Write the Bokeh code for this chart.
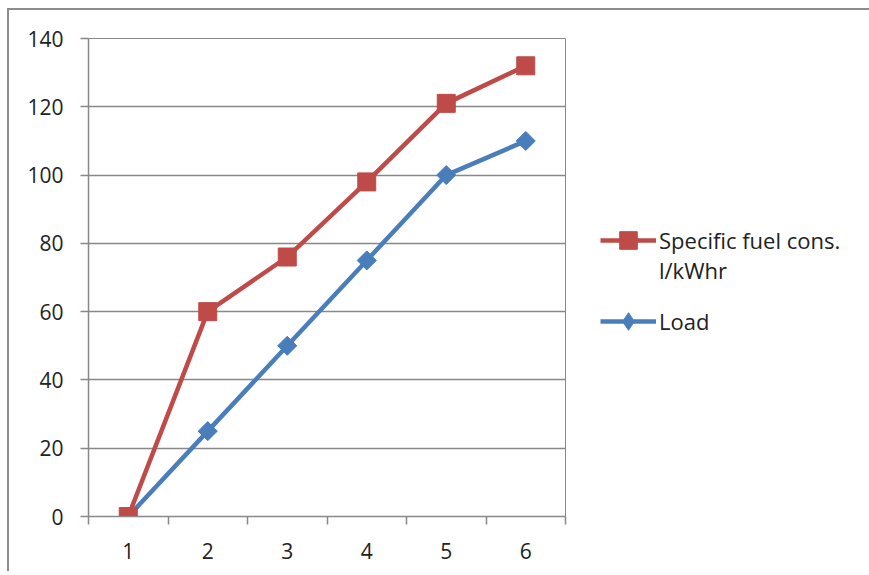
import math
from bokeh.plotting import figure
from bokeh.models import FixedTicker, Legend, LegendItem
from bokeh.embed import file_html
from bokeh.resources import INLINE

categories = [1, 2, 3, 4, 5, 6]
fuel = [0, 60, 76, 98, 121, 132]
load = [0, 25, 50, 75, 100, 110]
y_ticks = [0, 20, 40, 60, 80, 100, 120, 140]
fuel_label = ["Specific fuel cons.", "l/kWhr"]
load_label = "Load"

RED = "#BE4B48"
BLUE = "#4A7EBB"
GRID = "#888888"
FONT = "Open Sans"

p = figure(output_backend="svg", toolbar_location=None,
           x_range=(0.5, 6.5), y_range=(0, 140),
           frame_width=477, frame_height=478,
           min_border_left=79, min_border_right=290, min_border_top=28, min_border_bottom=55,
           styles={"border-top": "2px solid #8c8c8c", "border-left": "2px solid #8c8c8c",
                   "margin-top": "8px", "margin-left": "7px"})
p.outline_line_color = GRID
p.outline_line_width = 1
p.background_fill_color = "white"
p.border_fill_color = "white"

p.xgrid.visible = False
p.ygrid.ticker = FixedTicker(ticks=y_ticks)
p.ygrid.grid_line_color = GRID
p.ygrid.grid_line_width = 1.5

p.xaxis.ticker = FixedTicker(ticks=categories, minor_ticks=[0.5, 1.5, 2.5, 3.5, 4.5, 5.5, 6.5])
p.xaxis.major_tick_line_color = None
p.xaxis.minor_tick_line_color = GRID
p.xaxis.minor_tick_line_width = 1.5
p.xaxis.minor_tick_out = 8
p.xaxis.minor_tick_in = 0
p.xaxis.axis_line_color = GRID
p.xaxis.axis_line_width = 1.5
p.xaxis.major_label_standoff = 18

p.yaxis.ticker = FixedTicker(ticks=y_ticks)
p.yaxis.major_tick_line_color = GRID
p.yaxis.major_tick_line_width = 1.5
p.yaxis.major_tick_out = 8
p.yaxis.major_tick_in = 0
p.yaxis.minor_tick_line_color = None
p.yaxis.axis_line_color = GRID
p.yaxis.axis_line_width = 1.5
p.yaxis.major_label_standoff = 17

for ax in (p.xaxis, p.yaxis):
    ax.major_label_text_font = FONT
    ax.major_label_text_font_size = "21px"
    ax.major_label_text_color = "#222222"

bl = p.line(categories, load, line_color=BLUE, line_width=4.5)
bm = p.scatter(categories, load, marker="square", angle=math.pi / 4, size=13.5,
               fill_color=BLUE, line_color=BLUE)
# legend-only key glyph (hidden under the first red marker)
bkey = p.scatter(categories[:1], load[:1], marker="diamond", size=6,
                 fill_color=BLUE, line_color=BLUE)
rl = p.line(categories, fuel, line_color=RED, line_width=4.5)
rm = p.scatter(categories, fuel, marker="square", size=18, fill_color=RED, line_color=RED)

legend = Legend(items=[
    LegendItem(label=" \n" + "\n".join(fuel_label), renderers=[rl, rm]),
    LegendItem(label=load_label, renderers=[bl, bkey]),
], location=(35, 173))
legend.border_line_color = None
legend.background_fill_alpha = 0
legend.padding = 0
legend.margin = 0
legend.glyph_width = 56
legend.glyph_height = 44
legend.label_standoff = 3
legend.spacing = 14
legend.label_text_font = FONT
legend.label_text_font_size = "22px"
legend.label_text_line_height = 1.2
legend.label_text_color = "#222222"
p.add_layout(legend, "right")

open("out.html", "w").write(file_html(p, INLINE))
